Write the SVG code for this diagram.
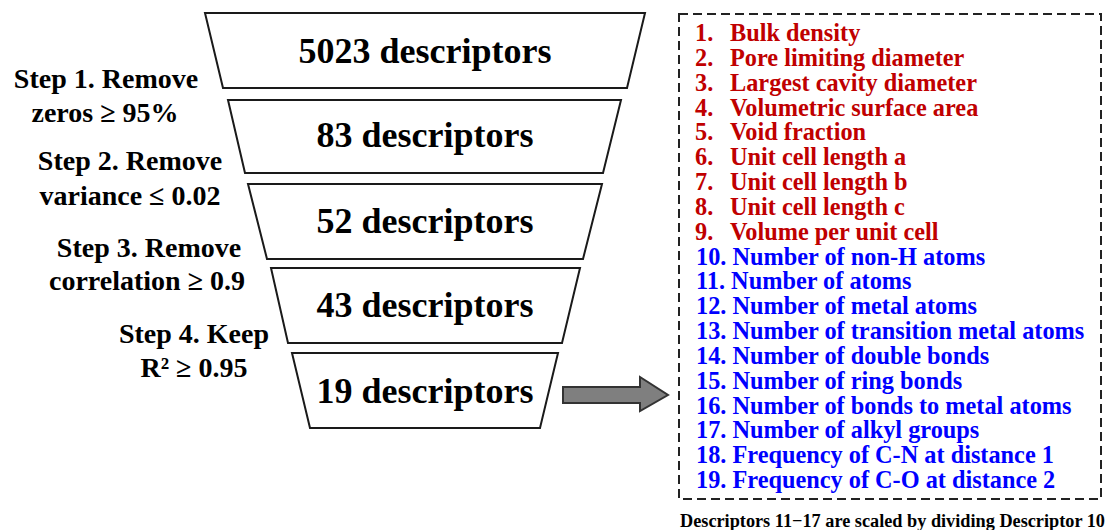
<svg xmlns="http://www.w3.org/2000/svg" width="1110" height="530" viewBox="0 0 1110 530">
<style>
.trap{fill:#fff;stroke:#1a1a1a;stroke-width:2}
</style>
<rect width="1110" height="530" fill="#fff"/>
<g id="stage1"><polygon class="trap" points="205,13 645,13 627,88 223,88"/><text x="425" y="63" font-family="Liberation Serif" font-weight="bold" font-size="36" text-anchor="middle">5023 descriptors</text></g>
<g id="stage2"><polygon class="trap" points="228,100 621,100 603,173 245,173"/><text x="425" y="147" font-family="Liberation Serif" font-weight="bold" font-size="36" text-anchor="middle">83 descriptors</text></g>
<g id="stage3"><polygon class="trap" points="248,184 602,184 583,259 267,259"/><text x="425" y="233" font-family="Liberation Serif" font-weight="bold" font-size="36" text-anchor="middle">52 descriptors</text></g>
<g id="stage4"><polygon class="trap" points="271,268 580,268 562,343 288,343"/><text x="425" y="317" font-family="Liberation Serif" font-weight="bold" font-size="36" text-anchor="middle">43 descriptors</text></g>
<g id="stage5"><polygon class="trap" points="292,353 558,353 540,428 310,428"/><text x="425" y="403" font-family="Liberation Serif" font-weight="bold" font-size="36" text-anchor="middle">19 descriptors</text></g>
<g id="step1"><text x="106" y="88" font-family="Liberation Serif" font-weight="bold" font-size="28" text-anchor="middle">Step 1. Remove</text><text x="105" y="122" font-family="Liberation Serif" font-weight="bold" font-size="28" text-anchor="middle">zeros ≥ 95%</text></g>
<g id="step2"><text x="130" y="170" font-family="Liberation Serif" font-weight="bold" font-size="28" text-anchor="middle">Step 2. Remove</text><text x="130" y="205" font-family="Liberation Serif" font-weight="bold" font-size="28" text-anchor="middle">variance ≤ 0.02</text></g>
<g id="step3"><text x="149" y="257" font-family="Liberation Serif" font-weight="bold" font-size="28" text-anchor="middle">Step 3. Remove</text><text x="147" y="290" font-family="Liberation Serif" font-weight="bold" font-size="28" text-anchor="middle">correlation ≥ 0.9</text></g>
<g id="step4"><text x="194" y="343" font-family="Liberation Serif" font-weight="bold" font-size="28" text-anchor="middle">Step 4. Keep</text><text x="194" y="377" font-family="Liberation Serif" font-weight="bold" font-size="28" text-anchor="middle">R² ≥ 0.95</text></g>
<g id="connectors"><polygon points="563,387 640,387 640,377 668,395 640,411 640,403 563,403" fill="#7f7f7f" stroke="#333" stroke-width="2"/></g>
<g id="list" font-family="Liberation Serif" font-weight="bold" font-size="24.3">
<rect x="679" y="14" width="422" height="485" fill="none" stroke="#222" stroke-width="2" stroke-dasharray="9,5"/>
<g fill="#C00000">
<text y="41" font-family="Liberation Serif"><tspan x="695">1.</tspan><tspan x="730">Bulk density</tspan></text>
<text y="65.8" font-family="Liberation Serif"><tspan x="695">2.</tspan><tspan x="730">Pore limiting diameter</tspan></text>
<text y="90.7" font-family="Liberation Serif"><tspan x="695">3.</tspan><tspan x="730">Largest cavity diameter</tspan></text>
<text y="115.5" font-family="Liberation Serif"><tspan x="695">4.</tspan><tspan x="730">Volumetric surface area</tspan></text>
<text y="140.3" font-family="Liberation Serif"><tspan x="695">5.</tspan><tspan x="730">Void fraction</tspan></text>
<text y="165.2" font-family="Liberation Serif"><tspan x="695">6.</tspan><tspan x="730">Unit cell length a</tspan></text>
<text y="190" font-family="Liberation Serif"><tspan x="695">7.</tspan><tspan x="730">Unit cell length b</tspan></text>
<text y="214.8" font-family="Liberation Serif"><tspan x="695">8.</tspan><tspan x="730">Unit cell length c</tspan></text>
<text y="239.6" font-family="Liberation Serif"><tspan x="695">9.</tspan><tspan x="730">Volume per unit cell</tspan></text>
</g>
<g fill="#0000FF">
<text x="696" y="264.5" font-family="Liberation Serif">10. Number of non-H atoms</text>
<text x="696" y="289.3" font-family="Liberation Serif">11. Number of atoms</text>
<text x="696" y="314.1" font-family="Liberation Serif">12. Number of metal atoms</text>
<text x="696" y="339" font-family="Liberation Serif">13. Number of transition metal atoms</text>
<text x="696" y="363.8" font-family="Liberation Serif">14. Number of double bonds</text>
<text x="696" y="388.6" font-family="Liberation Serif">15. Number of ring bonds</text>
<text x="696" y="413.5" font-family="Liberation Serif">16. Number of bonds to metal atoms</text>
<text x="696" y="438.3" font-family="Liberation Serif">17. Number of alkyl groups</text>
<text x="696" y="463.1" font-family="Liberation Serif">18. Frequency of C-N at distance 1</text>
<text x="696" y="488" font-family="Liberation Serif">19. Frequency of C-O at distance 2</text>
</g>
<text x="680" y="527" font-family="Liberation Serif" font-size="18.6" fill="#000" textLength="425" lengthAdjust="spacingAndGlyphs">Descriptors 11−17 are scaled by dividing Descriptor 10</text>
</g>
</svg>
